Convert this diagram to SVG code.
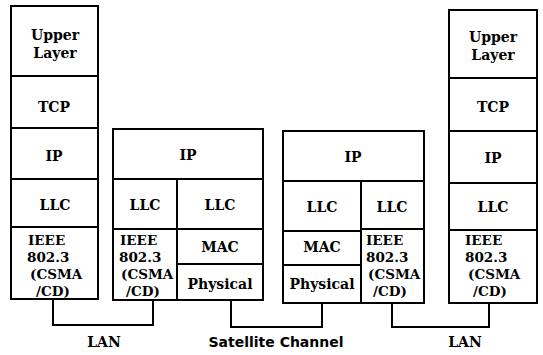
<svg xmlns="http://www.w3.org/2000/svg" width="543" height="355" viewBox="0 0 543 355">
<style>
.box{fill:#fff;stroke:#000;stroke-width:2}
.ln{fill:none;stroke:#000;stroke-width:2}
.t{font-family:"DejaVu Serif","Liberation Serif",serif;font-weight:bold;font-size:14px;fill:#000;text-anchor:middle}
.s{font-family:"DejaVu Serif","Liberation Serif",serif;font-weight:bold;font-size:13.5px;fill:#000}
.lab{font-family:"DejaVu Sans","Liberation Sans",sans-serif;font-weight:bold;font-size:14px;fill:#000;text-anchor:middle}
</style>
<rect width="543" height="355" fill="#fff"/>
<g id="host-left">
<rect class="box" x="11" y="6" width="87" height="293"/>
<path class="ln" d="M11,76H98M11,128H98M11,179H98M11,227H98"/>
<text class="t" x="55" y="40">Upper</text>
<text class="t" x="55" y="58">Layer</text>
<text class="t" x="54" y="112">TCP</text>
<text class="t" x="54" y="161">IP</text>
<text class="t" x="55" y="210">LLC</text>
<text class="s" x="28" y="245">IEEE</text>
<text class="s" x="27" y="262">802.3</text>
<text class="s" x="30" y="279">(CSMA</text>
<text class="s" x="36" y="296">/CD)</text>
</g>
<g id="router-1">
<rect class="box" x="113" y="129" width="150" height="171"/>
<path class="ln" d="M113,179H263M177,179V300M113,229H263M177,264H263"/>
<text class="t" x="188" y="160">IP</text>
<text class="t" x="145" y="210">LLC</text>
<text class="t" x="220" y="210">LLC</text>
<text class="t" x="220" y="252">MAC</text>
<text class="t" x="220" y="289">Physical</text>
<text class="s" x="120" y="245">IEEE</text>
<text class="s" x="119" y="262">802.3</text>
<text class="s" x="121" y="279">(CSMA</text>
<text class="s" x="126" y="296">/CD)</text>
</g>
<g id="router-2">
<rect class="box" x="283" y="131" width="141" height="172"/>
<path class="ln" d="M283,181H424M361,181V303M283,231H361M361,229H424M283,265H361"/>
<text class="t" x="353" y="162">IP</text>
<text class="t" x="322" y="212">LLC</text>
<text class="t" x="392" y="212">LLC</text>
<text class="t" x="322" y="252">MAC</text>
<text class="t" x="322" y="289">Physical</text>
<text class="s" x="366" y="245">IEEE</text>
<text class="s" x="366" y="262">802.3</text>
<text class="s" x="368" y="279">(CSMA</text>
<text class="s" x="373" y="296">/CD)</text>
</g>
<g id="host-right">
<rect class="box" x="449" y="10" width="88" height="293"/>
<path class="ln" d="M449,78H537M449,131H537M449,183H537M449,230H537"/>
<text class="t" x="493" y="42">Upper</text>
<text class="t" x="493" y="60">Layer</text>
<text class="t" x="493" y="112">TCP</text>
<text class="t" x="493" y="163">IP</text>
<text class="t" x="493" y="212">LLC</text>
<text class="s" x="465" y="245">IEEE</text>
<text class="s" x="465" y="262">802.3</text>
<text class="s" x="468" y="279">(CSMA</text>
<text class="s" x="473" y="296">/CD)</text>
</g>
<g id="connectors">
<path class="ln" d="M53,299V325H153V300"/>
<path class="ln" d="M231,300V327H322V303"/>
<path class="ln" d="M392,303V327H489V303"/>
</g>
<g id="labels">
<text class="t" x="104" y="347">LAN</text>
<text class="lab" x="276" y="347">Satellite Channel</text>
<text class="t" x="465" y="347">LAN</text>
</g>
</svg>
